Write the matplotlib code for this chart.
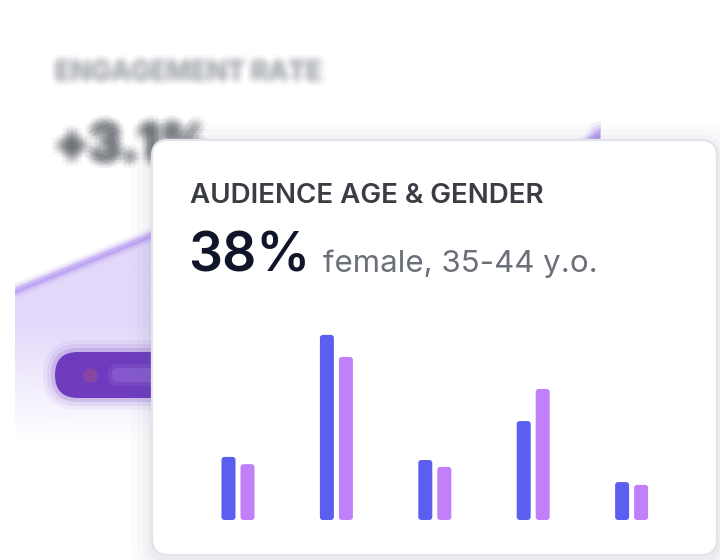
import numpy as np
import matplotlib
matplotlib.use('Agg')
import matplotlib.pyplot as plt
import matplotlib.patheffects as pe
from matplotlib.patches import FancyBboxPatch

# audience bars (front card)
age_groups = ['13-17', '18-24', '25-34', '35-44', '45+']
male = [18.3, 53.7, 17.4, 28.7, 11.0]
female = [16.2, 47.3, 15.4, 38.0, 10.2]

# engagement line (blurred card behind)
weeks = [0, 1, 2, 3]
engagement = [1.5, 2.3, 2.0, 3.07]

title = 'AUDIENCE AGE & GENDER'
headline = '38%'
subline = 'female, 35-44 y.o.'
bg_label = 'ENGAGEMENT RATE'
bg_value = '+3.1%'

BLUE = '#5b5fef'
PURPLE = '#c17ff9'

plt.rcParams['font.family'] = ['Inter', 'DejaVu Sans']

W, H = 720, 560
fig = plt.figure(figsize=(W / 100, H / 100), dpi=100)
fig.patch.set_facecolor('white')


def px_axes(z):
    ax = fig.add_axes([0, 0, 1, 1], zorder=z)
    ax.set_xlim(0, W)
    ax.set_ylim(H, 0)
    ax.axis('off')
    ax.patch.set_alpha(0)
    return ax


def blur(color, radii, alpha, n=10):
    # ring of shifted copies imitates a gaussian blur
    effects = [pe.SimplePatchShadow(offset=(0, 0), shadow_rgbFace=color, alpha=alpha, rho=1)]
    for r in radii:
        for t in np.linspace(0, 2 * np.pi, n, endpoint=False):
            effects.append(pe.SimplePatchShadow(offset=(r * np.cos(t), r * np.sin(t)),
                                                shadow_rgbFace=color, alpha=alpha, rho=1))
    return effects


# background card texts (blurred look)
ax_bg = px_axes(0)
ax_bg.text(55, 80, bg_label, fontsize=19, fontweight='bold', color='#9a9ea6',
           path_effects=blur('#9a9ea6', (1.5, 3, 4.5), 0.045))
ax_bg.text(55, 160, bg_value, fontsize=36, fontweight='bold', color='#4b5058',
           path_effects=blur('#4b5058', (2, 4, 6), 0.06))

# blurred engagement line chart
ax_line = fig.add_axes([15 / W, (H - 440) / H, 585 / W, 440 / H], zorder=1)
ax_line.set_xlim(0, 3)
ax_line.set_ylim(0, 440 / 99.4)
ax_line.axis('off')
ax_line.patch.set_alpha(0)
fill = ax_line.fill_between(weeks, engagement, 0, facecolor='none', edgecolor='none')
fade = np.clip(np.linspace(1, 0, 256) * 2.6, 0, 1)
rgba = np.zeros((256, 1, 4))
rgba[..., 0] = 0xe2 / 255
rgba[..., 1] = 0xd8 / 255
rgba[..., 2] = 0xfa / 255
rgba[:, 0, 3] = fade
im = ax_line.imshow(rgba, extent=[0, 3, 0, max(engagement)], origin='upper', aspect='auto',
                    interpolation='bilinear')
im.set_clip_path(fill.get_paths()[0], transform=ax_line.transData)
for lw, a in ((11, 0.08), (8, 0.14), (5.5, 0.22), (3.5, 0.35)):
    ax_line.plot(weeks, engagement, color='#a784f0', lw=lw, alpha=a, solid_capstyle='round')
for s, a in ((420, 0.12), (240, 0.2), (110, 0.3)):
    ax_line.scatter(weeks[-1:], engagement[-1:], s=s, color='#b197ef', alpha=a, lw=0)

# front layer: pill, card, texts
ax_card = px_axes(2)
for grow, a in ((12, 0.05), (8, 0.08), (4, 0.14), (0, 0.85)):
    ax_card.add_patch(FancyBboxPatch((55 - grow, 352 - grow), 200 + 2 * grow, 46 + 2 * grow,
                                     boxstyle='round,pad=0,rounding_size=%d' % (23 + grow),
                                     fc='#5f26b8', ec='none', alpha=a, zorder=1))
ax_card.scatter([90], [375], s=110, color='#a0508a', alpha=0.55, lw=0, zorder=1.5)
for grow, a in ((4, 0.12), (0, 0.22)):
    ax_card.add_patch(FancyBboxPatch((112 - grow, 368 - grow), 50 + 2 * grow, 14 + 2 * grow,
                                     boxstyle='round,pad=0,rounding_size=%d' % (6 + grow),
                                     fc='#b79cf0', ec='none', alpha=a, zorder=1.5))

cx, cy, cw, ch = 152, 140, 565, 415
for grow, a in ((22, 0.015), (15, 0.025), (9, 0.035), (4, 0.05)):
    ax_card.add_patch(FancyBboxPatch((cx - grow, cy - grow + 4), cw + 2 * grow, ch + 2 * grow,
                                     boxstyle='round,pad=0,rounding_size=%d' % (16 + grow),
                                     fc='#6b7280', ec='none', alpha=a, zorder=2))
ax_card.add_patch(FancyBboxPatch((cx, cy), cw, ch, boxstyle='round,pad=0,rounding_size=16',
                                 fc='white', ec='#e2e4ea', lw=1.6, zorder=3))

ax_card.text(190, 203, title, fontsize=20, fontweight='semibold', color='#3b3d45', zorder=4)
ax_card.text(188, 272, headline, fontsize=38.5, fontweight='semibold', color='#11152a', zorder=4)
ax_card.text(323, 272, subline, fontsize=22.5, color='#6b6f78', zorder=4)

# bars
unit_px = 98.4
y_px = 131 / 38.0
ax_bar = fig.add_axes([(238 - 0.9 * unit_px) / W, (H - 520) / H, 5.8 * unit_px / W, 220 / H], zorder=3)
ax_bar.set_xlim(-0.9, 4.9)
ax_bar.set_ylim(0, 220 / y_px)
ax_bar.axis('off')
ax_bar.patch.set_alpha(0)
x = np.arange(len(age_groups))
bw = 14 / unit_px
off = 9.5 / unit_px
bars_m = ax_bar.bar(x - off, male, width=bw, color=BLUE)
bars_f = ax_bar.bar(x + off, female, width=bw, color=PURPLE)
for bars in (bars_m, bars_f):
    for b in bars:
        b.set_visible(False)
        ax_bar.add_patch(FancyBboxPatch((b.get_x(), b.get_y()), b.get_width(), b.get_height(),
                                        boxstyle='round,pad=0,rounding_size=%f' % (3 / unit_px),
                                        mutation_aspect=unit_px / y_px,
                                        fc=b.get_facecolor(), ec='none'))

fig.savefig('out.png', dpi=100)
